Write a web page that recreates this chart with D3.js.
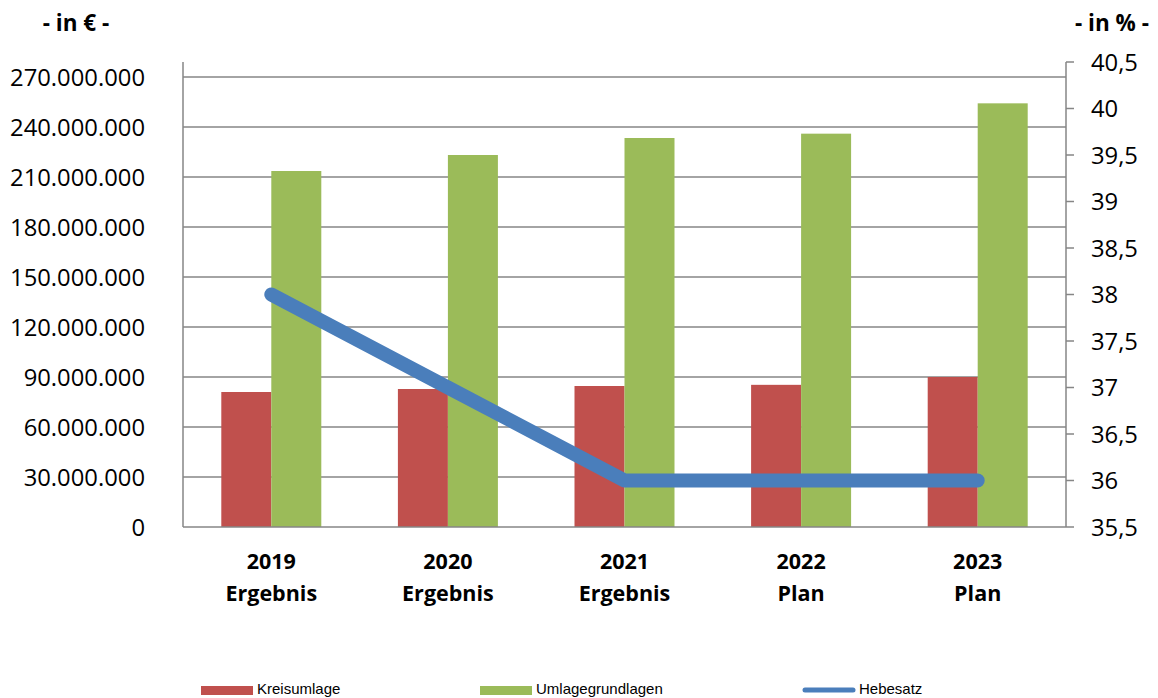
<!DOCTYPE html>
<html><head><meta charset="utf-8">
<script src="https://cdn.jsdelivr.net/npm/d3@7"></script>
<style>body{margin:0;background:#fff}svg{display:block}</style>
</head><body>
<svg id="c" width="1158" height="698"></svg>
<script>
const years = ["2019", "2020", "2021", "2022", "2023"];
const kinds = ["Ergebnis", "Ergebnis", "Ergebnis", "Plan", "Plan"];
const kreisumlage = [81000000, 82800000, 84600000, 85300000, 90000000];
const umlagegrundlagen = [213600000, 223200000, 233400000, 236000000, 254200000];
const hebesatz = [38, 37, 36, 36, 36];
const leftTicks = [0, 30000000, 60000000, 90000000, 120000000, 150000000, 180000000, 210000000, 240000000, 270000000];
const rightTicks = [35.5, 36, 36.5, 37, 37.5, 38, 38.5, 39, 39.5, 40, 40.5];
const seriesNames = ["Kreisumlage", "Umlagegrundlagen", "Hebesatz"];
const colors = ["#c0504d", "#9bbb59", "#4a7ebb"];

const svg = d3.select("#c");
const L = 183, R = 1066, T = 62, B = 527;
const font = "'Open Sans', sans-serif";
const x = d3.scaleBand().domain(years).range([L, R]).paddingInner(0).paddingOuter(0);
const yL = d3.scaleLinear().domain([0, 270000000 * (B - T) / 450]).range([B, T]);
const yR = d3.scaleLinear().domain([35.5, 40.5]).range([B, T]);
const fmt = v => d3.format(",")(v).replace(/,/g, ".");
const grid = "#868686";

// gridlines
svg.append("g").selectAll("line").data(leftTicks.filter(d => d > 0)).join("line")
  .attr("x1", L).attr("x2", R).attr("y1", d => yL(d)).attr("y2", d => yL(d))
  .attr("stroke", grid).attr("stroke-width", 1.5);

// bars
const bw = 50;
svg.append("g").selectAll("rect").data(years).join("rect")
  .attr("x", (d) => x(d) + x.bandwidth() / 2 - bw)
  .attr("width", bw)
  .attr("y", (d, i) => yL(kreisumlage[i]))
  .attr("height", (d, i) => B - yL(kreisumlage[i]))
  .attr("fill", colors[0]);
svg.append("g").selectAll("rect").data(years).join("rect")
  .attr("x", (d) => x(d) + x.bandwidth() / 2)
  .attr("width", bw)
  .attr("y", (d, i) => yL(umlagegrundlagen[i]))
  .attr("height", (d, i) => B - yL(umlagegrundlagen[i]))
  .attr("fill", colors[1]);

// axes lines
svg.append("line").attr("x1", L).attr("x2", L).attr("y1", T).attr("y2", B).attr("stroke", grid).attr("stroke-width", 1.5);
svg.append("line").attr("x1", R).attr("x2", R).attr("y1", T).attr("y2", B).attr("stroke", grid).attr("stroke-width", 1.5);
svg.append("line").attr("x1", L).attr("x2", R).attr("y1", B).attr("y2", B).attr("stroke", grid).attr("stroke-width", 1.5);

// left tick labels
svg.append("g").selectAll("text").data(leftTicks).join("text")
  .attr("x", 145).attr("y", d => yL(d)).attr("dy", "0.36em")
  .attr("text-anchor", "end").attr("font-family", font).attr("font-size", 23.8)
  .attr("fill", "#000").text(fmt);

// right ticks
svg.append("g").selectAll("line").data(rightTicks).join("line")
  .attr("x1", R).attr("x2", R + 8).attr("y1", d => yR(d)).attr("y2", d => yR(d))
  .attr("stroke", grid).attr("stroke-width", 1.5);
svg.append("g").selectAll("text").data(rightTicks).join("text")
  .attr("x", 1091).attr("y", d => yR(d)).attr("dy", "0.36em")
  .attr("text-anchor", "start").attr("font-family", font).attr("font-size", 23.8)
  .attr("fill", "#000").text(d => String(d).replace(".", ","));

// category labels
const cat = svg.append("g").selectAll("text").data(years).join("text")
  .attr("x", d => x(d) + x.bandwidth() / 2).attr("y", 569)
  .attr("text-anchor", "middle").attr("font-family", font).attr("font-weight", "bold")
  .attr("font-size", 21.5).attr("fill", "#000");
cat.append("tspan").attr("x", d => x(d) + x.bandwidth() / 2).text(d => d);
cat.append("tspan").attr("x", d => x(d) + x.bandwidth() / 2).attr("dy", 32).text((d, i) => kinds[i]);

// line
const line = d3.line().x((d, i) => x(years[i]) + x.bandwidth() / 2).y(d => yR(d));
svg.append("path").datum(hebesatz).attr("d", line).attr("fill", "none")
  .attr("stroke", colors[2]).attr("stroke-width", 14).attr("stroke-linecap", "round").attr("stroke-linejoin", "round");

// axis titles
svg.append("text").attr("x", 76).attr("y", 31).attr("text-anchor", "middle")
  .attr("font-family", font).attr("font-weight", "bold").attr("font-size", 22.5).text("- in € -");
svg.append("text").attr("x", 1112).attr("y", 31).attr("text-anchor", "middle")
  .attr("font-family", font).attr("font-weight", "bold").attr("font-size", 22.5).text("- in % -");

// legend
const lx = [201, 480, 803];
const lg = svg.append("g").selectAll("g").data(seriesNames).join("g")
  .attr("transform", (d, i) => `translate(${lx[i]},0)`);
lg.each(function (d, i) {
  const g = d3.select(this);
  if (i < 2) g.append("rect").attr("x", 0).attr("y", 686).attr("width", 52).attr("height", 9).attr("fill", colors[i]);
  else g.append("line").attr("x1", 2).attr("x2", 50).attr("y1", 690).attr("y2", 690)
    .attr("stroke", colors[i]).attr("stroke-width", 5).attr("stroke-linecap", "round");
  g.append("text").attr("x", 56).attr("y", 694).attr("font-family", "'Liberation Sans Narrow', 'Liberation Sans', Arial, sans-serif")
    .attr("font-size", 15).attr("fill", "#000").text(d);
});
</script>
</body></html>
